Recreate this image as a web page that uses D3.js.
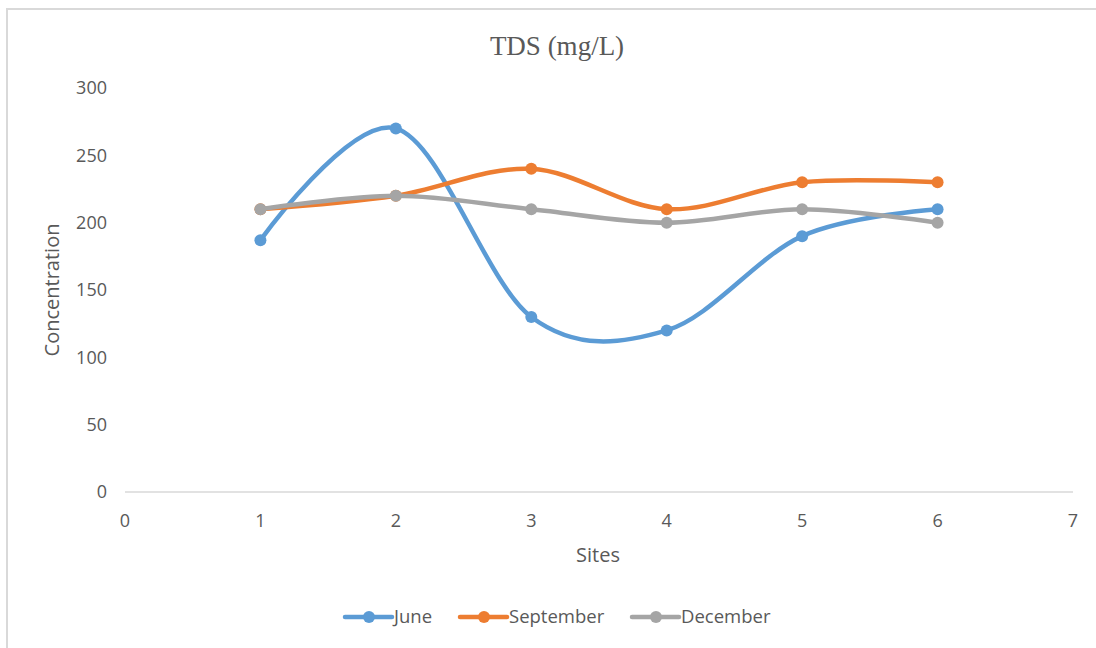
<!DOCTYPE html>
<html>
<head>
<meta charset="utf-8">
<script src="https://cdn.jsdelivr.net/npm/d3@7"></script>
<style>
  body { margin: 0; background: #fff; }
  text { font-family: "Open Sans", "Liberation Sans", sans-serif; }
</style>
</head>
<body>
<div id="chart"></div>
<script>
const sites = [1, 2, 3, 4, 5, 6];
const june = [187, 270, 130, 120, 190, 210];
const september = [210, 220, 240, 210, 230, 230];
const december = [210, 220, 210, 200, 210, 200];
const seriesNames = ["June", "September", "December"];
const seriesColors = ["#5b9bd5", "#ed7d31", "#a5a5a5"];
const yTicks = [0, 50, 100, 150, 200, 250, 300];
const xTicks = [0, 1, 2, 3, 4, 5, 6, 7];

const width = 1096, height = 648;
const margin = { left: 125, right: 23, top: 88, bottom: 156 };

const svg = d3.select("#chart").append("svg")
  .attr("width", width)
  .attr("height", height);

// chart frame
svg.append("rect")
  .attr("x", 7).attr("y", 9)
  .attr("width", width + 10).attr("height", height + 10)
  .attr("fill", "none")
  .attr("stroke", "#d9d9d9")
  .attr("stroke-width", 2);

const x = d3.scaleLinear().domain([0, 7]).range([margin.left, width - margin.right]);
const y = d3.scaleLinear().domain([0, 300]).range([height - margin.bottom, margin.top]);

svg.append("text")
  .attr("x", 557).attr("y", 55)
  .attr("text-anchor", "middle")
  .style("font-family", "'Liberation Serif', 'Times New Roman', serif")
  .attr("font-size", "27px")
  .attr("fill", "#595959")
  .text("TDS (mg/L)");

// x axis line
svg.append("line")
  .attr("x1", x(0)).attr("x2", x(7))
  .attr("y1", y(0)).attr("y2", y(0))
  .attr("stroke", "#d9d9d9")
  .attr("stroke-width", 1.5);

svg.selectAll(".ytick")
  .data(yTicks)
  .enter().append("text")
  .attr("class", "ytick")
  .attr("x", 107)
  .attr("y", d => y(d))
  .attr("dy", "0.35em")
  .attr("text-anchor", "end")
  .attr("font-size", "18px")
  .attr("fill", "#595959")
  .text(d => d);

svg.selectAll(".xtick")
  .data(xTicks)
  .enter().append("text")
  .attr("class", "xtick")
  .attr("x", d => x(d))
  .attr("y", 521)
  .attr("dy", "0.35em")
  .attr("text-anchor", "middle")
  .attr("font-size", "18px")
  .attr("fill", "#595959")
  .text(d => d);

svg.append("text")
  .attr("transform", "translate(59,290) rotate(-90)")
  .attr("text-anchor", "middle")
  .attr("font-size", "20px")
  .attr("fill", "#595959")
  .text("Concentration");

svg.append("text")
  .attr("x", 598).attr("y", 562)
  .attr("text-anchor", "middle")
  .attr("font-size", "20px")
  .attr("fill", "#595959")
  .text("Sites");

const series = [june, september, december].map((vals, i) => ({
  name: seriesNames[i],
  color: seriesColors[i],
  points: vals.map((v, j) => ({ site: sites[j], value: v }))
}));

const line = d3.line()
  .x(d => x(d.site))
  .y(d => y(d.value))
  .curve(d3.curveCardinal.tension(0));

series.forEach(s => {
  svg.append("path")
    .datum(s.points)
    .attr("d", line)
    .attr("fill", "none")
    .attr("stroke", s.color)
    .attr("stroke-width", 4.5)
    .attr("stroke-linecap", "round");

  svg.selectAll(null)
    .data(s.points)
    .enter().append("circle")
    .attr("cx", d => x(d.site))
    .attr("cy", d => y(d.value))
    .attr("r", 6)
    .attr("fill", s.color);
});

// legend
const legendX = [345, 460, 632];
series.forEach((s, i) => {
  const g = svg.append("g").attr("transform", `translate(${legendX[i]},617)`);
  g.append("line")
    .attr("x1", 0).attr("x2", 47)
    .attr("stroke", s.color)
    .attr("stroke-width", 4.5)
    .attr("stroke-linecap", "round");
  g.append("circle")
    .attr("cx", 24).attr("r", 6)
    .attr("fill", s.color);
  g.append("text")
    .attr("x", 49)
    .attr("dy", "0.35em")
    .attr("font-size", "18.5px")
    .attr("fill", "#595959")
    .text(s.name);
});
</script>
</body>
</html>
